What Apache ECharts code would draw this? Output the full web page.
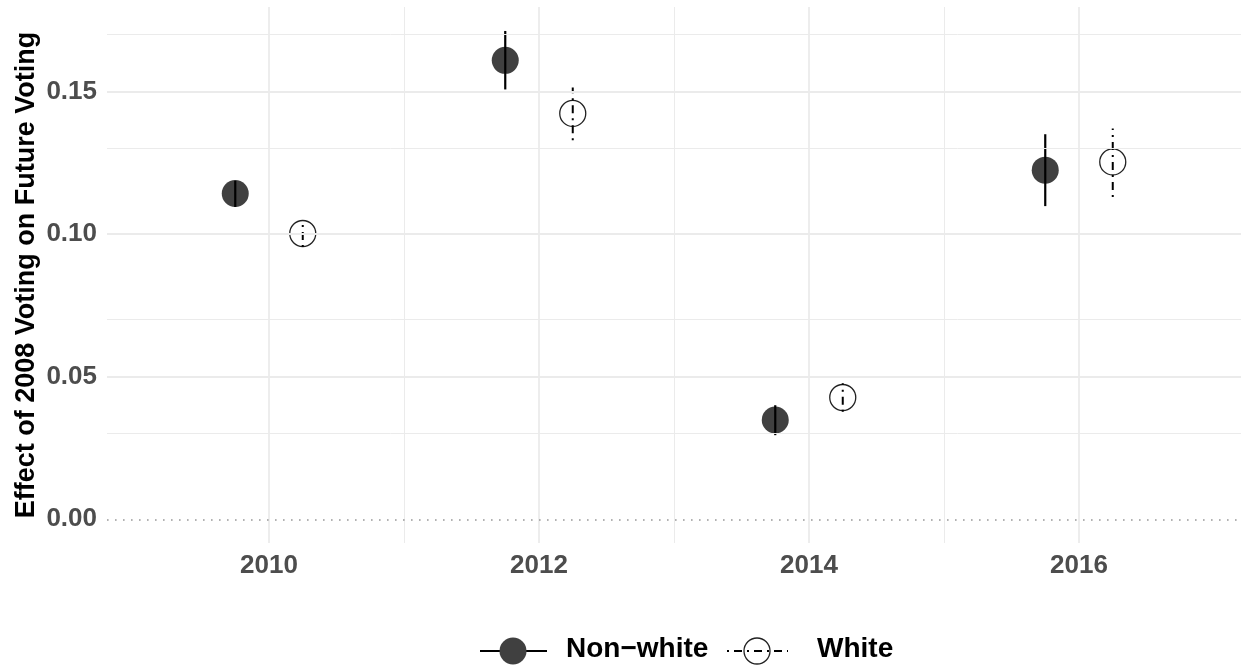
<!DOCTYPE html>
<html>
<head>
<meta charset="utf-8">
<script src="https://cdn.jsdelivr.net/npm/echarts@6/dist/echarts.min.js"></script>
<style>
html,body{margin:0;padding:0;background:#fff;}
#chart{width:1241px;height:670px;}
</style>
</head>
<body>
<div id="chart"></div>
<script>
// ---- data ----
const years = [2010, 2012, 2014, 2016];
const groups = ['Non\u2212white', 'White'];
const nonWhiteEst = [0.1142, 0.1609, 0.0348, 0.1224];
const nonWhiteLo  = [0.1095, 0.1507, 0.0295, 0.1098];
const nonWhiteHi  = [0.1187, 0.1712, 0.0400, 0.1350];
const whiteEst = [0.1002, 0.1423, 0.0427, 0.1253];
const whiteLo  = [0.0955, 0.1329, 0.0377, 0.1130];
const whiteHi  = [0.1049, 0.1514, 0.0477, 0.1370];
const xTicks = [2010, 2012, 2014, 2016];
const xMinorGrid = [2011, 2013, 2015];
const yTicks = [0, 0.05, 0.10, 0.15];
const yMinorGrid = [0.025, 0.075, 0.125, 0.175];
const yTitle = 'Effect of 2008 Voting on Future Voting';

const dodge = 0.25;
const FONT = '"Liberation Sans", Arial, Helvetica, sans-serif';
const DOTDASH = [2, 5, 8, 5];

const nwPts = years.map((y, i) => [y - dodge, nonWhiteEst[i]]);
const wPts = years.map((y, i) => [y + dodge, whiteEst[i]]);
const nwBars = years.map((y, i) => [y - dodge, nonWhiteLo[i], nonWhiteHi[i]]);
const wBars = years.map((y, i) => [y + dodge, whiteLo[i], whiteHi[i]]);

function errRender(style) {
  return function (params, api) {
    const p1 = api.coord([api.value(0), api.value(1)]);
    const p2 = api.coord([api.value(0), api.value(2)]);
    return {
      type: 'line',
      shape: {x1: p1[0], y1: p1[1], x2: p2[0], y2: p2[1]},
      style: style
    };
  };
}

const gridMajor = {color: '#ebebeb', width: 1.8, type: 'solid'};
const gridMinor = {color: '#ebebeb', width: 1, type: 'solid'};
const markGrid = [].concat(
  xTicks.map(v => ({xAxis: v, lineStyle: gridMajor})),
  xMinorGrid.map(v => ({xAxis: v, lineStyle: gridMinor})),
  yTicks.filter(v => v !== 0).map(v => ({yAxis: v, lineStyle: gridMajor})),
  yMinorGrid.map(v => ({yAxis: v, lineStyle: gridMinor}))
);

const chart = echarts.init(document.getElementById('chart'), null, {renderer: 'canvas'});
const option = {
  animation: false,
  backgroundColor: '#ffffff',
  grid: {left: 107, right: 0, top: 7, bottom: 127, containLabel: false},
  xAxis: {
    type: 'value', min: 2008.8, max: 2017.2,
    axisLine: {show: false}, axisTick: {show: false}, splitLine: {show: false},
    axisLabel: {
      customValues: xTicks, margin: 10,
      color: '#4d4d4d', fontSize: 26, fontWeight: 'bold', fontFamily: FONT,
      formatter: v => String(Math.round(v))
    }
  },
  yAxis: {
    type: 'value', min: -0.0083, max: 0.1796,
    axisLine: {show: false}, axisTick: {show: false}, splitLine: {show: false},
    axisLabel: {
      customValues: yTicks, margin: 10,
      color: '#4d4d4d', fontSize: 26, fontWeight: 'bold', fontFamily: FONT,
      formatter: v => v.toFixed(2)
    },
    name: yTitle, nameLocation: 'middle', nameGap: 67, nameMoveOverlap: false,
    nameTextStyle: {color: '#000', fontSize: 27, fontWeight: 'bold', fontFamily: FONT}
  },
  series: [
    {
      type: 'line', data: [], silent: true, z: 0,
      markLine: {silent: true, symbol: 'none', label: {show: false}, animation: false, data: markGrid}
    },
    {
      type: 'line', data: [], silent: true, z: 1,
      markLine: {
        silent: true, symbol: 'none', label: {show: false}, animation: false,
        lineStyle: {color: '#999999', width: 1.6, type: [1.6, 6.4]},
        data: [{yAxis: 0}]
      }
    },
    {
      name: groups[0], type: 'scatter', data: nwPts, symbol: 'circle', symbolSize: 27, z: 3,
      itemStyle: {color: '#404040', opacity: 1}
    },
    {
      name: groups[1], type: 'scatter', data: wPts, symbol: 'circle', symbolSize: 26, z: 3,
      itemStyle: {color: 'rgba(255,255,255,0)', borderColor: '#222', borderWidth: 1.3, opacity: 1}
    },
    {
      type: 'custom', data: nwBars, z: 4, silent: true,
      renderItem: errRender({stroke: '#000', lineWidth: 2.2})
    },
    {
      type: 'custom', data: wBars, z: 4, silent: true,
      renderItem: errRender({stroke: '#000', lineWidth: 2, lineDash: DOTDASH})
    }
  ],
  graphic: [
    {type: 'line', shape: {x1: 480, y1: 651, x2: 547, y2: 651}, style: {stroke: '#000', lineWidth: 2.2}},
    {type: 'circle', shape: {cx: 513, cy: 651, r: 13.5}, style: {fill: '#404040'}},
    {type: 'text', left: 566, top: 635, style: {text: groups[0], fill: '#000', font: 'bold 28px ' + FONT}},
    {type: 'line', shape: {x1: 727, y1: 651, x2: 788, y2: 651}, style: {stroke: '#000', lineWidth: 2, lineDash: DOTDASH}},
    {type: 'circle', shape: {cx: 757, cy: 651, r: 13}, style: {fill: 'rgba(0,0,0,0)', stroke: '#222', lineWidth: 1.3}},
    {type: 'text', left: 817, top: 635, style: {text: groups[1], fill: '#000', font: 'bold 28px ' + FONT}}
  ]
};
chart.setOption(option);
</script>
</body>
</html>
